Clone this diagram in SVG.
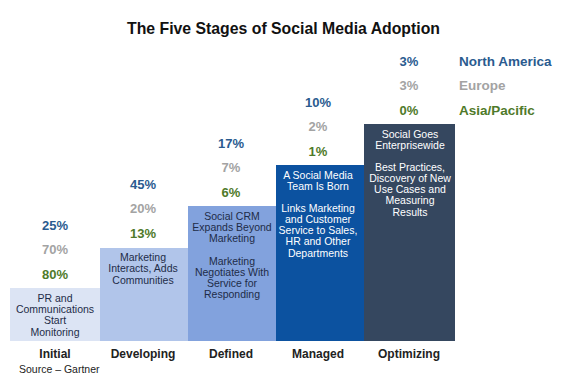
<svg xmlns="http://www.w3.org/2000/svg" width="572" height="379" viewBox="0 0 572 379">
<style>
text{font-family:"Liberation Sans",Arial,sans-serif;text-anchor:middle}
.t{font-size:16.5px;font-weight:bold;fill:#111}
.p{font-size:13px;font-weight:bold}
.na{fill:#2a5b8f}
.eu{fill:#a3a3a3}
.ap{fill:#4f7a2a}
.lg{text-anchor:start;font-size:13.5px;font-weight:bold}
.st{font-size:12px;font-weight:bold;fill:#222}
.b{font-size:10.5px;fill:#1e2c48}
.w{font-size:10.5px;fill:#ffffff}
.src{font-size:10.5px;fill:#222;text-anchor:start}
</style>
<rect width="572" height="379" fill="#ffffff"/>
<text class="t" x="283.5" y="34" textLength="313" lengthAdjust="spacingAndGlyphs">The Five Stages of Social Media Adoption</text>

<g id="legend">
<text class="lg na" x="459" y="66">North America</text>
<text class="lg eu" x="459" y="90">Europe</text>
<text class="lg ap" x="459" y="115">Asia/Pacific</text>
</g>

<g id="initial">
<rect x="10" y="288" width="90" height="53" fill="#dce4f4"/>
<text class="p na" x="55" y="230">25%</text>
<text class="p eu" x="55" y="254">70%</text>
<text class="p ap" x="55" y="279">80%</text>
<text class="b" x="55" y="302">PR and</text>
<text class="b" x="55" y="313">Communications</text>
<text class="b" x="55" y="324">Start</text>
<text class="b" x="55" y="336">Monitoring</text>
<text class="st" x="55" y="358">Initial</text>
</g>

<g id="developing">
<rect x="100" y="248" width="88" height="93" fill="#b1c5ea"/>
<text class="p na" x="143" y="189">45%</text>
<text class="p eu" x="143" y="213">20%</text>
<text class="p ap" x="143" y="238">13%</text>
<text class="b" x="143" y="261">Marketing</text>
<text class="b" x="143" y="272">Interacts, Adds</text>
<text class="b" x="143" y="284">Communities</text>
<text class="st" x="143" y="358">Developing</text>
</g>

<g id="defined">
<rect x="188" y="206" width="88" height="135" fill="#82a2dd"/>
<text class="p na" x="231" y="148">17%</text>
<text class="p eu" x="231" y="172">7%</text>
<text class="p ap" x="231" y="197">6%</text>
<text class="b" x="232" y="220">Social CRM</text>
<text class="b" x="232" y="231">Expands Beyond</text>
<text class="b" x="232" y="242">Marketing</text>
<text class="b" x="232" y="265">Marketing</text>
<text class="b" x="232" y="276">Negotiates With</text>
<text class="b" x="232" y="287">Service for</text>
<text class="b" x="232" y="298">Responding</text>
<text class="st" x="231" y="358">Defined</text>
</g>

<g id="managed">
<rect x="276" y="165" width="88" height="176" fill="#0c52a0"/>
<text class="p na" x="318" y="107">10%</text>
<text class="p eu" x="318" y="131">2%</text>
<text class="p ap" x="318" y="156">1%</text>
<text class="w" x="318" y="179">A Social  Media</text>
<text class="w" x="318" y="190">Team Is Born</text>
<text class="w" x="318" y="212">Links Marketing</text>
<text class="w" x="318" y="223">and  Customer</text>
<text class="w" x="318" y="234">Service to Sales,</text>
<text class="w" x="318" y="245">HR  and Other</text>
<text class="w" x="318" y="257">Departments</text>
<text class="st" x="318" y="358">Managed</text>
</g>

<g id="optimizing">
<rect x="364" y="124" width="91" height="217" fill="#35475f"/>
<text class="p na" x="409" y="66">3%</text>
<text class="p eu" x="409" y="90">3%</text>
<text class="p ap" x="409" y="115">0%</text>
<text class="w" x="410" y="138">Social  Goes</text>
<text class="w" x="410" y="149">Enterprisewide</text>
<text class="w" x="410" y="171">Best  Practices,</text>
<text class="w" x="410" y="182">Discovery of New</text>
<text class="w" x="410" y="193">Use  Cases and</text>
<text class="w" x="410" y="204">Measuring</text>
<text class="w" x="410" y="216">Results</text>
<text class="st" x="409" y="358">Optimizing</text>
</g>

<g id="connectors"></g>

<text class="src" x="19" y="373">Source – Gartner</text>
</svg>
